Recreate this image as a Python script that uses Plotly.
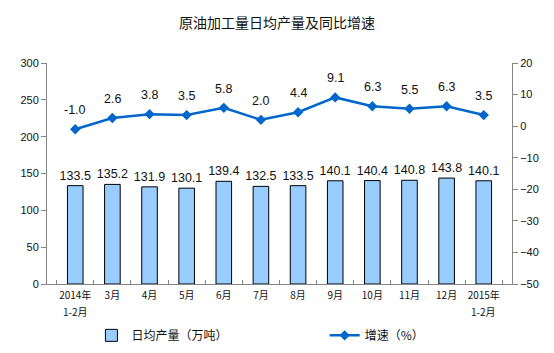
import plotly.graph_objects as go

categories = ["2014年1-2月", "3月", "4月", "5月", "6月", "7月", "8月", "9月",
              "10月", "11月", "12月", "2015年1-2月"]
tick_line1 = ["2014年", "3月", "4月", "5月", "6月", "7月", "8月", "9月",
              "10月", "11月", "12月", "2015年"]
tick_line2 = ["1-2月", "", "", "", "", "", "", "", "", "", "", "1-2月"]
output = [133.5, 135.2, 131.9, 130.1, 139.4, 132.5, 133.5, 140.1, 140.4, 140.8, 143.8, 140.1]
growth = [-1.0, 2.6, 3.8, 3.5, 5.8, 2.0, 4.4, 9.1, 6.3, 5.5, 6.3, 3.5]
left_ticks = [0, 50, 100, 150, 200, 250, 300]
right_ticks = [-50, -40, -30, -20, -10, 0, 10, 20]

latin = "Liberation Sans, Arial, sans-serif"
cjk = "Noto Sans CJK SC, Liberation Sans, sans-serif"
axis_col = "#868686"

fig = go.Figure()
fig.add_trace(go.Bar(
    x=categories, y=output, name="日均产量（万吨）", legend="legend",
    marker=dict(color="#99CCFF", line=dict(color="black", width=1)),
    width=0.42,
    text=[f"{v:.1f}" for v in output], textposition="outside", constraintext="none",
    textfont=dict(family=latin, size=12.5, color="#111111"),
    cliponaxis=False,
))
fig.add_trace(go.Scatter(
    x=categories, y=growth, name="增速（%）", yaxis="y2", legend="legend2",
    mode="lines+markers",
    line=dict(color="#0066CC", width=2.5),
    marker=dict(symbol="diamond", size=8, color="#0066CC"),
))
for c, g in zip(categories, growth):
    fig.add_annotation(x=c, y=g, yref="y2", text=f"{g:.1f}", showarrow=False,
                       yshift=19, font=dict(family=latin, size=12.5, color="#111111"))

# second line of the two-line category labels
for c, t2 in zip(categories, tick_line2):
    if t2:
        fig.add_annotation(x=c, y=0, yref="paper", text=t2, showarrow=False,
                           yanchor="middle", yshift=-27,
                           font=dict(family=cjk, size=10, color="#111111"))

legend_common = dict(orientation="h", yref="container", y=0.05, yanchor="middle",
                     xref="container", xanchor="left",
                     font=dict(family=cjk, size=12, color="#111111"), bgcolor="rgba(0,0,0,0)")
fig.update_layout(
    width=554, height=353,
    margin=dict(l=47, r=42, t=63, b=69),
    paper_bgcolor="white", plot_bgcolor="white",
    title=dict(text="原油加工量日均产量及同比增速", x=0.5, xanchor="center", y=0.935, yanchor="middle",
               font=dict(family=cjk, size=14, color="#111111")),
    showlegend=True,
    legend=dict(x=0.165, **legend_common),
    legend2=dict(x=0.586, **legend_common),
    bargap=0.58,
    xaxis=dict(type="category", showline=True, linecolor=axis_col, linewidth=1,
               ticks="inside", tickson="boundaries", ticklen=4, tickcolor=axis_col,
               tickvals=categories, ticktext=tick_line1,
               tickangle=0, automargin=False, ticklabelstandoff=2,
               tickfont=dict(family=cjk, size=10, color="#111111"), showgrid=False),
    yaxis=dict(range=[0, 300], tickvals=left_ticks, showline=True, linecolor=axis_col,
               ticks="outside", ticklen=5, tickcolor=axis_col, showgrid=False, zeroline=False,
               automargin=False,
               tickfont=dict(family=latin, size=11, color="#111111")),
    yaxis2=dict(range=[-50, 20], tickvals=right_ticks, overlaying="y", side="right",
                showline=True, linecolor=axis_col, ticks="outside", ticklen=5, tickcolor=axis_col,
                showgrid=False, zeroline=False, automargin=False,
                tickfont=dict(family=latin, size=11, color="#111111")),
)
fig.write_html("out.html")
